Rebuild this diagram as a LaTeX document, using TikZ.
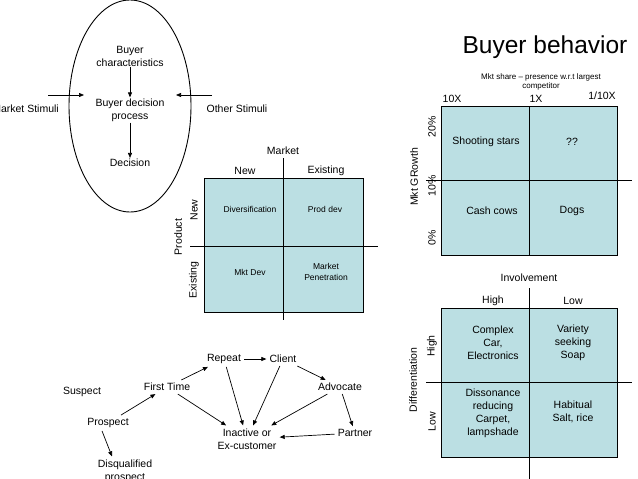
\documentclass[tikz,border=0pt]{standalone}
\usepackage{fontspec}
\setmainfont{Liberation Sans}
\usetikzlibrary{arrows.meta}
\definecolor{cellc}{RGB}{187,223,227}
\tikzset{
  txt/.style={font=\fontsize{10.5}{13}\selectfont, align=center, inner sep=1pt},
  small/.style={font=\fontsize{8.5}{10.5}\selectfont, align=center, inner sep=1pt},
  tiny/.style={font=\fontsize{8}{9.5}\selectfont, align=center, inner sep=1pt},
  gn/.style={font=\fontsize{10.5}{13}\selectfont, align=center, inner sep=3pt},
  arr/.style={-{Triangle[length=5pt,width=4pt]}, line width=0.7pt},
  box/.style={fill=cellc, draw=black, line width=1pt},
  axis/.style={draw=black, line width=1pt}
}
\begin{document}
\begin{tikzpicture}[x=1pt,y=-1pt]
\useasboundingbox (0,0) rectangle (638,479);
\fill[white] (0,0) rectangle (638,479);

% ---------- Buyer ellipse ----------
\draw[line width=0.9pt] (130,106) ellipse [x radius=61pt, y radius=106pt];
\node[txt] (char) at (130,56) {Buyer\\characteristics};
\node[txt] (proc) at (130,110) {Buyer decision\\process};
\node[txt] (dec) at (130,163) {Decision};
\draw[arr] (char) -- (proc);
\draw[arr] (proc) -- (dec);
\node[txt, anchor=east] (ms) at (60,109) {Market Stimuli};
\node[txt] (os) at (237,109) {Other Stimuli};
\coordinate (msA) at (48,95);
\coordinate (msB) at (84,95);
\coordinate (osA) at (212,95);
\coordinate (osB) at (176,95);
\draw[arr] (msA) -- (msB);
\draw[arr] (osA) -- (osB);

% ---------- Ansoff matrix ----------
\draw[box] (204,178) rectangle (363,312);
\draw[axis] (283,158) -- (283,320);
\draw[axis] (190,246) -- (378,246);
\node[txt] (mkt) at (283,151) {Market};
\node[txt] (mnew) at (245,171) {New};
\node[txt] (mex) at (326,171) {Existing};
\node[txt, rotate=90] (prod) at (178,237) {Product};
\node[txt, rotate=90] (pnew) at (194,210) {New};
\node[txt, rotate=90] (pex) at (194,280) {Existing};
\node[small] (div) at (250,209) {Diversification};
\node[small] (pdev) at (325,209) {Prod dev};
\node[small] (mdev) at (250,272) {Mkt Dev};
\node[small] (mpen) at (326,272) {Market\\Penetration};

% ---------- Title ----------
\node[font=\fontsize{24.5}{28}\selectfont, inner sep=0pt] (title) at (545,47) {Buyer behavior};

% ---------- BCG matrix ----------
\draw[box] (441,106) rectangle (617,255);
\draw[axis] (529,106) -- (529,255);
\draw[axis] (426,180) -- (632,180);
\node[tiny] (share) at (541,82) {Mkt share -- presence w.r.t largest\\competitor};
\node[txt] (x10) at (452,99) {10X};
\node[txt] (x1) at (536,99) {1X};
\node[txt] (x110) at (602,96) {1/10X};
\node[txt, rotate=90] (g20) at (432,127) {20\%};
\node[txt, rotate=90] (g10) at (432,186) {10\%};
\node[txt, rotate=90] (g0) at (432,238) {0\%};
\node[txt, rotate=90] (growth) at (414,177) {Mkt GRowth};
\node[txt] (stars) at (486,142) {Shooting stars};
\node[txt] (qq) at (572,142) {??};
\node[txt] (cows) at (492,211) {Cash cows};
\node[txt] (dogs) at (572,211) {Dogs};

% ---------- Involvement matrix ----------
\draw[box] (441,308) rectangle (617,457);
\draw[axis] (529,288) -- (529,479);
\draw[axis] (426,382) -- (632,382);
\node[txt] (inv) at (529,278) {Involvement};
\node[txt] (ihigh) at (493,301) {High};
\node[txt] (ilow) at (573,301) {Low};
\node[txt, rotate=90] (diff) at (413,380) {Differentiation};
\node[txt, rotate=90] (dhigh) at (432,346) {High};
\node[txt, rotate=90] (dlow) at (432,422) {Low};
\node[txt] (cplx) at (493,343) {Complex\\Car,\\Electronics};
\node[txt] (vari) at (573,343) {Variety\\seeking\\Soap};
\node[txt] (disso) at (493,413) {Dissonance\\reducing\\Carpet,\\lampshade};
\node[txt] (habit) at (573,412) {Habitual\\Salt, rice};

% ---------- Customer ladder ----------
\node[gn] (suspect) at (82,392) {Suspect};
\node[gn] (first) at (167,387) {First Time};
\node[gn] (repeat) at (224,359) {Repeat};
\node[gn] (client) at (283,359) {Client};
\node[gn] (advocate) at (340,387) {Advocate};
\node[gn] (prospect) at (108,423) {Prospect};
\node[gn] (inactive) at (247,439) {Inactive or\\Ex-customer};
\node[gn] (partner) at (355,433) {Partner};
\node[gn] (disq) at (125,471) {Disqualified\\prospect};

\draw[arr] (prospect) -- (first);
\draw[arr] (prospect.south) ++(-6,0) coordinate (pS) -- (disq.north -| 112,0);
\draw[arr] (first) -- (repeat);
\draw[arr] (first) -- (inactive);
\draw[arr] (repeat) -- (client);
\draw[arr] (repeat) -- (inactive);
\draw[arr] (client) -- (inactive);
\draw[arr] (client) -- (advocate);
\draw[arr] (advocate) -- (inactive);
\draw[arr] (advocate) -- (partner);
\draw[arr] (partner) -- (inactive);
\end{tikzpicture}
\end{document}
